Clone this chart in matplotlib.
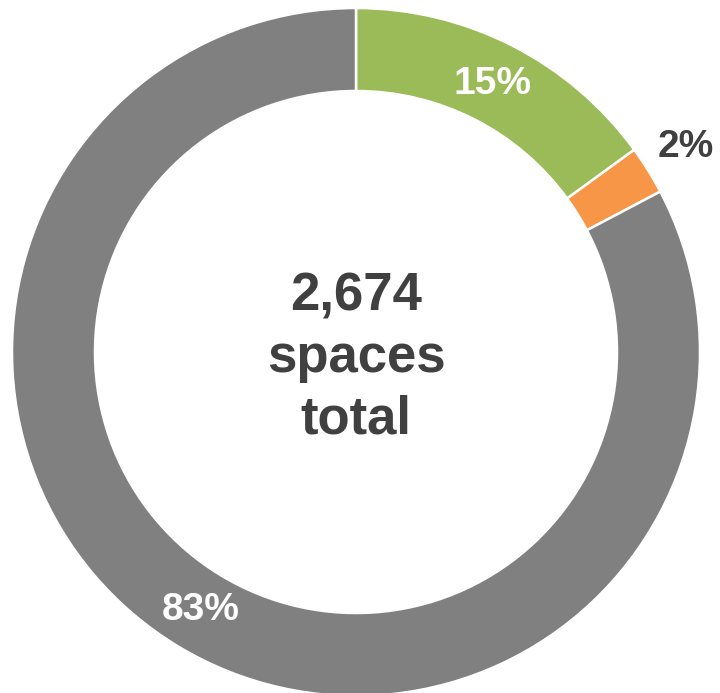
import matplotlib.pyplot as plt

plt.rcParams.update({"font.family": ["Liberation Sans", "DejaVu Sans"], "font.weight": "bold"})

# parking spaces by type (estimated from the chart)
categories = ["Green", "Orange", "Gray"]
spaces = [401, 61, 2212]
colors = ["#9BBB59", "#F79646", "#808080"]
total = 2674

fig = plt.figure(figsize=(7.2, 6.93), dpi=100)
ax = fig.add_axes([0, 0, 1, 1])

def fmt(pct):
    # small slices get an outside label instead
    return f"{pct:.0f}%" if pct > 5 else ""

outside = [f"{v / total * 100:.0f}%" if v / total < 0.05 else "" for v in spaces]

wedges, texts, autotexts = ax.pie(
    spaces,
    colors=colors,
    labels=outside,
    labeldistance=1.13,
    startangle=90,
    counterclock=False,
    radius=344,
    autopct=fmt,
    pctdistance=0.875,
    wedgeprops=dict(width=83, edgecolor="white", linewidth=1.8),
    textprops=dict(fontsize=28),
)

for t in autotexts:
    t.set_color("white")
    t.set_fontsize(28)
    t.set_fontweight("bold")
for t in texts:
    t.set_color("#404040")
    t.set_fontsize(28)
    t.set_fontweight("bold")
    t.set_ha("center")
    t.set_va("center")

ax.text(0, -6, f"{total:,}\nspaces\ntotal", ha="center", va="center",
        fontsize=38, fontweight="bold", color="#404040", linespacing=1.3)

ax.set_xlim(-356, 364)
ax.set_ylim(-341, 352)
ax.set_aspect("equal")
ax.axis("off")

plt.savefig("out.png", dpi=100)
